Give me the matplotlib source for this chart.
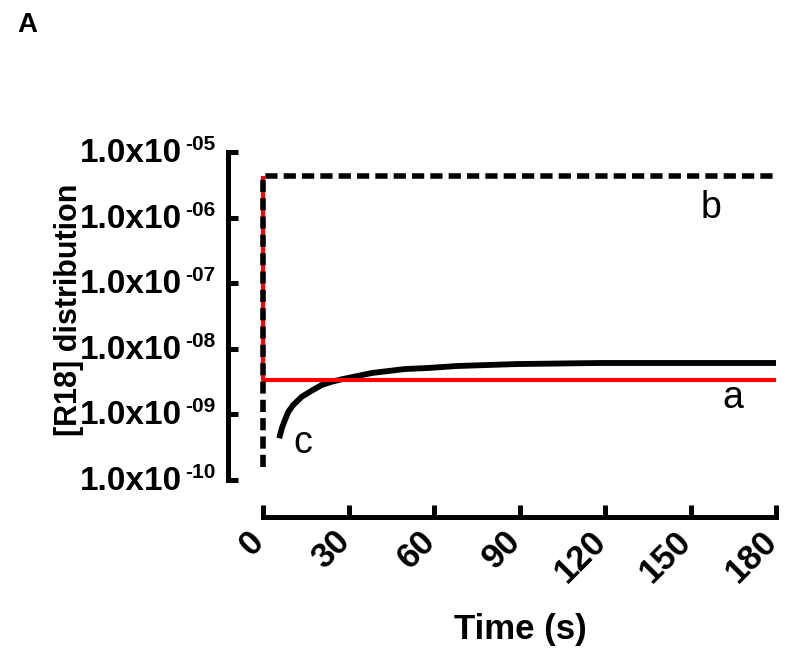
#!/usr/bin/env python3
"""
Panel A: [R18] distribution over time (log scale), curves a, b and c.
"""

import matplotlib
matplotlib.use("Agg")
import matplotlib.pyplot as plt
from matplotlib.transforms import ScaledTranslation

plt.rcParams["font.family"] = ["Liberation Sans", "DejaVu Sans"]

# Curve a (red, solid): step at t=0 down to a constant level
a_time = [0, 0, 180]
a_value = [4.3e-6, 3.34e-9, 3.34e-9]

# Curve b (black, dashed): step at t=0 up to a constant level
b_time = [0, 0, 180]
b_value = [1.58e-10, 4.3e-6, 4.3e-6]

# Curve c (black, thick): rises and levels off
c_time = [5.7, 6.6, 7.7, 8.9, 10.6, 13.6, 17.1, 20.6, 24.1, 27.6,
          38.2, 49.8, 57.5, 68.1, 89.1, 118, 180]
c_value = [4.33e-10, 6.14e-10, 8.22e-10, 1.10e-9, 1.39e-9, 1.86e-9, 2.30e-9,
           2.81e-9, 3.15e-9, 3.43e-9, 4.28e-9, 4.92e-9, 5.09e-9, 5.47e-9,
           5.86e-9, 6.08e-9, 6.08e-9]

x_ticks = [0, 30, 60, 90, 120, 150, 180]
y_exponents = [-10, -9, -8, -7, -6, -5]
y_mantissa = "1.0x10"


def main():
    fig = plt.figure(figsize=(8, 6.61), dpi=100)
    ax = fig.add_axes([0.32875, 0.2738, 0.64125, 0.4962])

    ax.plot(c_time, c_value, color="black", linewidth=4.2, zorder=3,
            clip_on=False, solid_capstyle="butt")
    ax.plot(a_time, a_value, color="#ff0000", linewidth=3.0, zorder=4,
            clip_on=False, solid_capstyle="butt")
    ax.plot(b_time, b_value, color="black", linewidth=4.0, zorder=5,
            clip_on=False, dashes=(2.2, 1.1), dash_capstyle="butt")

    ax.set_yscale("log")
    ax.set_xlim(0, 180)
    ax.set_ylim(1e-10, 1e-5)

    # GraphPad-like offset axes
    for side in ("top", "right"):
        ax.spines[side].set_visible(False)
    ax.spines["left"].set_position(("outward", 25.2))
    ax.spines["bottom"].set_position(("outward", 26.6))
    for side in ("left", "bottom"):
        ax.spines[side].set_linewidth(3.6)

    ax.set_xticks(x_ticks)
    ax.set_xticklabels([str(t) for t in x_ticks], rotation=45, ha="right",
                       va="center", rotation_mode="anchor",
                       fontsize=25, fontweight="bold")
    ax.tick_params(axis="x", direction="in", length=9, width=3.6, pad=14)
    shift = ScaledTranslation(-3 / 72, 0, fig.dpi_scale_trans)
    for lbl in ax.get_xticklabels():
        lbl.set_transform(lbl.get_transform() + shift)

    y_ticks = [10.0 ** e for e in y_exponents]
    ax.set_yticks(y_ticks)
    ax.yaxis.set_minor_locator(matplotlib.ticker.NullLocator())
    ax.set_yticklabels([])
    ax.tick_params(axis="y", direction="in", length=7, width=3.6)

    # y tick labels as "1.0x10" with a small superscript exponent
    ytrans = ax.get_yaxis_transform()
    for e, v in zip(y_exponents, y_ticks):
        ax.annotate(y_mantissa, xy=(0, v), xycoords=ytrans,
                    xytext=(-58.3, -7.2), textcoords="offset points",
                    ha="right", va="baseline", fontsize=24,
                    fontweight="bold", annotation_clip=False)
        ax.annotate("-%02d" % abs(e), xy=(0, v), xycoords=ytrans,
                    xytext=(-56.2, 1.4), textcoords="offset points",
                    ha="left", va="baseline", fontsize=15,
                    fontweight="bold", annotation_clip=False)

    # curve labels
    fig.text(711 / 800, 1 - 208 / 661, "b", fontsize=27, ha="center", va="center")
    fig.text(733 / 800, 1 - 398 / 661, "a", fontsize=27, ha="center", va="center")
    fig.text(303 / 800, 1 - 443 / 661, "c", fontsize=27, ha="center", va="center")

    fig.text(69 / 800, 1 - 310 / 661, "[R18] distribution", rotation=90,
             fontsize=22, fontweight="bold", ha="center", va="center")
    fig.text(520 / 800, 1 - 630 / 661, "Time (s)", fontsize=25,
             fontweight="bold", ha="center", va="center")
    fig.text(27 / 800, 1 - 25 / 661, "A", fontsize=20, fontweight="bold",
             ha="center", va="center")

    fig.savefig("out.png", dpi=100)
    plt.close(fig)


if __name__ == "__main__":
    main()
